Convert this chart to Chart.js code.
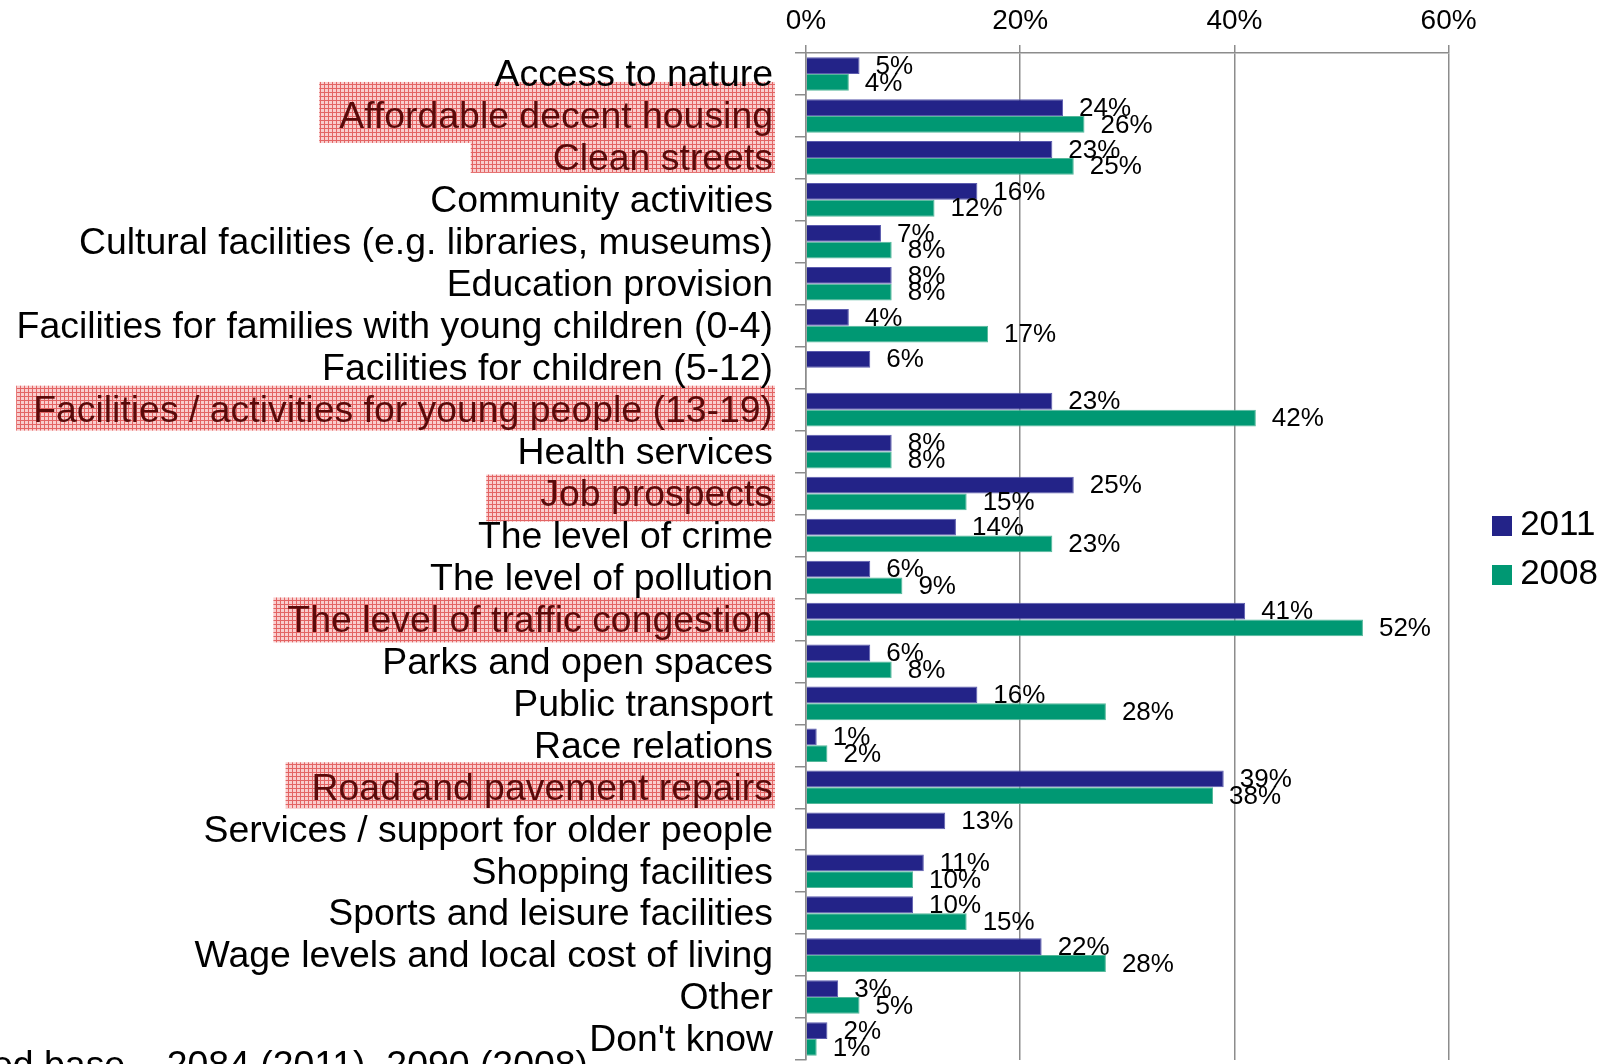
<!DOCTYPE html>
<html>
<head>
<meta charset="utf-8">
<title>Priorities for improvement</title>
<script src="https://cdn.jsdelivr.net/npm/chart.js@4/dist/chart.umd.min.js"></script>
<style>
    html, body { margin: 0; padding: 0; background: #fff; }
    #wrap { width: 1608px; height: 1064px; position: relative; }
</style>
</head>
<body>
<div id="wrap"><canvas id="chart"></canvas></div>
<script>
const categories = [
    "Access to nature",
    "Affordable decent housing",
    "Clean streets",
    "Community activities",
    "Cultural facilities (e.g. libraries, museums)",
    "Education provision",
    "Facilities for families with young children (0-4)",
    "Facilities for children (5-12)",
    "Facilities / activities for young people (13-19)",
    "Health services",
    "Job prospects",
    "The level of crime",
    "The level of pollution",
    "The level of traffic congestion",
    "Parks and open spaces",
    "Public transport",
    "Race relations",
    "Road and pavement repairs",
    "Services / support for older people",
    "Shopping facilities",
    "Sports and leisure facilities",
    "Wage levels and local cost of living",
    "Other",
    "Don't know",
];
const share2011 = [5, 24, 23, 16, 7, 8, 4, 6, 23, 8, 25, 14, 6, 41, 6, 16, 1, 39, 13, 11, 10, 22, 3, 2];
const share2008 = [4, 26, 25, 12, 8, 8, 17, null, 42, 8, 15, 23, 9, 52, 8, 28, 2, 38, null, 10, 15, 28, 5, 1];
const xTicks = [0, 20, 40, 60];
const highlighted = [
    "Affordable decent housing",
    "Clean streets",
    "Facilities / activities for young people (13-19)",
    "Job prospects",
    "The level of traffic congestion",
    "Road and pavement repairs",
];
const baseNote = "Unweighted base – 2084 (2011), 2090 (2008)";

const FONT = '"Liberation Sans", Arial, Helvetica, sans-serif';
const LABEL_SIZE = 37.4;
const GRID = "#8c8c8c";
const BLUE = "#232388";
const GREEN = "#009873";

// the shaded marks behind highlighted labels are hand-drawn, so each one has its own extent
// (top/bottom from the tick centre, left/right beyond the text)
const markPad = {
    "Affordable decent housing": { top: -34, bottom: 27, left: 20, right: 2 },
    "Clean streets": { top: -15, bottom: 15, left: 82, right: 2 },
    "Facilities / activities for young people (13-19)": { top: -24, bottom: 21, left: 17, right: 2 },
    "Job prospects": { top: -19, bottom: 28, left: 54, right: 2 },
    "The level of traffic congestion": { top: -22, bottom: 23, left: 14, right: 2 },
    "Road and pavement repairs": { top: -25, bottom: 21, left: 26, right: 2 },
};

function hatchPattern() {
    const c = document.createElement("canvas");
    c.width = 4;
    c.height = 4;
    const g = c.getContext("2d");
    g.fillStyle = "#f9cdcd";
    g.fillRect(0, 0, 4, 4);
    g.fillStyle = "#e36464";
    g.fillRect(0, 0, 4, 1);
    g.fillRect(0, 0, 1, 4);
    return g.createPattern(c, "repeat");
}

// square legend swatch, drawn as a point style so it can sit close to its text
function swatch(color) {
    const c = document.createElement("canvas");
    c.width = 20;
    c.height = 20;
    const g = c.getContext("2d");
    g.fillStyle = color;
    g.fillRect(0, 0, 20, 20);
    return c;
}

const isMarked = (i) => highlighted.includes(categories[i]);
const hatch = hatchPattern();

// shaded boxes go down first so the axis labels are painted over them
const labelMarks = {
    id: "labelMarks",
    beforeDraw(chart) {
        const y = chart.scales.y;
        const { ctx } = chart;
        const textRight = y.right - y.options.grid.tickLength - y.options.ticks.padding;
        ctx.save();
        ctx.font = `${LABEL_SIZE}px ${FONT}`;
        ctx.fillStyle = hatch;
        categories.forEach((name, i) => {
            const m = markPad[name];
            if (!m) return;
            const cy = y.getPixelForTick(i);
            const w = ctx.measureText(name).width;
            ctx.fillRect(textRight - w - m.left, cy + m.top, w + m.left + m.right, m.bottom - m.top);
        });
        ctx.restore();
    },
};

const valueLabels = {
    id: "valueLabels",
    afterDatasetsDraw(chart) {
        const { ctx } = chart;
        ctx.save();
        ctx.font = `26px ${FONT}`;
        ctx.fillStyle = "#000";
        ctx.textAlign = "left";
        ctx.textBaseline = "middle";
        chart.data.datasets.forEach((ds, i) => {
            chart.getDatasetMeta(i).data.forEach((bar, j) => {
                const v = ds.data[j];
                if (v == null) return;
                ctx.fillText(`${v}%`, bar.x + 16, bar.y + 1);
            });
        });
        ctx.restore();
    },
};

const baseNoteLine = {
    id: "baseNoteLine",
    afterDraw(chart) {
        const { ctx } = chart;
        ctx.save();
        ctx.font = `${LABEL_SIZE}px ${FONT}`;
        ctx.fillStyle = "#000";
        ctx.textAlign = "right";
        ctx.textBaseline = "alphabetic";
        ctx.fillText(baseNote, 588, 1077);
        ctx.restore();
    },
};

// legend sits further out and lower than Chart.js places it
const legendNudge = {
    id: "legendNudge",
    afterLayout(chart) {
        const lg = chart.legend;
        lg.left += 38;
        lg.right += 38;
        lg.top += 18;
        lg.bottom += 18;
    },
};

new Chart(document.getElementById("chart"), {
    type: "bar",
    data: {
        labels: categories,
        datasets: [
            { label: "2011", data: share2011, backgroundColor: BLUE, borderColor: "#5c5cae", borderWidth: 1 },
            { label: "2008", data: share2008, backgroundColor: GREEN, borderColor: "#55b89a", borderWidth: 1 },
        ],
    },
    options: {
        indexAxis: "y",
        responsive: true,
        maintainAspectRatio: false,
        animation: false,
        layout: { padding: { top: 4, right: 38, bottom: 4, left: 0 } },
        datasets: { bar: { categoryPercentage: 0.8, barPercentage: 1.0 } },
        plugins: {
            legend: {
                position: "right",
                labels: {
                    font: { family: FONT, size: 35 },
                    color: "#000",
                    usePointStyle: true,
                    boxWidth: 2,
                    boxHeight: 20,
                    padding: 14,
                    generateLabels: (chart) =>
                        Chart.defaults.plugins.legend.labels
                            .generateLabels(chart)
                            .map((item) => ({ ...item, pointStyle: swatch(item.fillStyle) })),
                },
            },
            tooltip: { enabled: false },
        },
        scales: {
            x: {
                position: "top",
                min: xTicks[0],
                max: xTicks[xTicks.length - 1],
                afterBuildTicks: (s) => {
                    s.ticks = xTicks.map((v) => ({ value: v }));
                },
                afterFit: (s) => {
                    s.height = 49;
                },
                grid: { color: GRID, lineWidth: 1.5, tickLength: 8 },
                border: { color: GRID, width: 1.5 },
                ticks: {
                    font: { family: FONT, size: 28 },
                    color: "#000",
                    padding: 7,
                    callback: (v) => `${v}%`,
                },
            },
            y: {
                afterFit: (s) => {
                    s.width = 806;
                    // labels sit inside their bands, no room needed above or below
                    s.paddingTop = 0;
                    s.paddingBottom = 0;
                },
                grid: { drawOnChartArea: false, tickLength: 11, color: GRID, lineWidth: 1.5 },
                border: { color: GRID, width: 1.5 },
                ticks: {
                    autoSkip: false,
                    padding: 22,
                    labelOffset: 2,
                    font: { family: FONT, size: LABEL_SIZE },
                    color: (c) => (isMarked(c.index) ? "#5a0a0a" : "#000"),
                },
            },
        },
    },
    plugins: [labelMarks, valueLabels, baseNoteLine, legendNudge],
});
</script>
</body>
</html>
